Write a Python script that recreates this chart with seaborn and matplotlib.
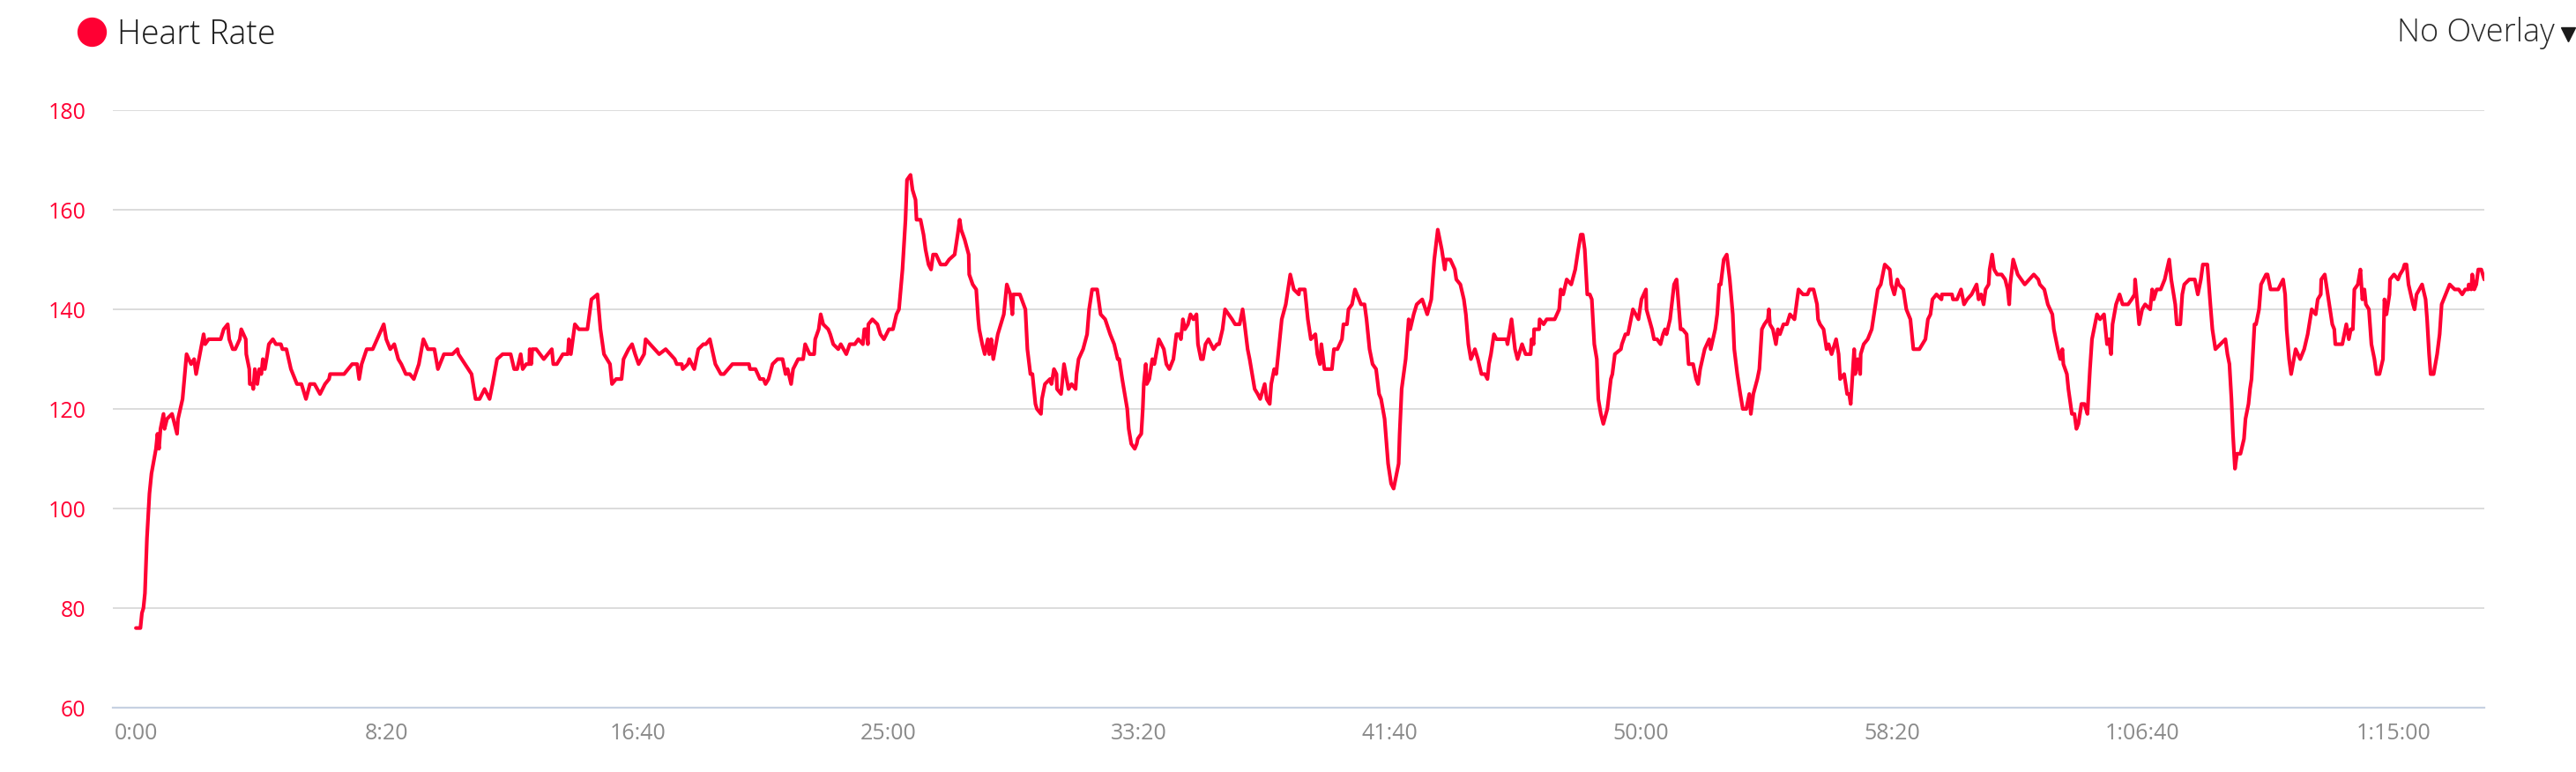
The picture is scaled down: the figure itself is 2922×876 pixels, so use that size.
import seaborn as sns
import matplotlib.pyplot as plt
import pandas as pd
from matplotlib.lines import Line2D

# heart rate samples (elapsed seconds, bpm)
seconds = [
    0, 9, 12, 15, 18, 22, 27, 31, 40, 43, 46, 49, 55, 57, 62, 72, 82, 84, 93, 101,
    110, 116, 120, 135, 138, 145, 169, 175, 183, 186, 193, 198, 207, 210, 219, 220, 226, 227, 232, 234,
    237, 242, 246, 250, 253, 257, 262, 265, 273, 279, 289, 292, 300, 309, 321, 330, 339, 347, 356, 367,
    377, 385, 387, 415, 431, 441, 445, 450, 460, 472, 494, 499,
    507, 515, 523, 529, 538, 546, 554, 564, 573, 582, 595, 602, 614, 631, 641, 643, 656, 669, 677, 685,
    695, 705, 711, 720, 731, 747, 754, 760, 767, 771, 778, 784, 785, 788, 790, 798, 813, 829, 832, 839,
    851, 861, 863, 867, 875, 883, 900, 908, 920, 926, 933, 945, 949, 957, 968, 972, 982, 989, 995, 1002,
    1013, 1016, 1043,
    1056, 1074, 1078, 1088, 1090, 1100, 1103, 1113, 1121, 1131, 1136, 1144, 1155, 1166, 1172, 1189, 1194, 1222, 1224, 1235,
    1244, 1251, 1255, 1261, 1269, 1279, 1289, 1295, 1299, 1306, 1310, 1320, 1330, 1334, 1343, 1352, 1354, 1361, 1365, 1370,
    1380, 1384, 1390, 1400, 1405, 1416, 1423, 1433, 1440, 1449, 1452, 1456, 1459, 1460, 1468, 1478, 1484, 1491, 1501, 1509,
    1516, 1521, 1528, 1534, 1537, 1544, 1548, 1554, 1556, 1564, 1570,
    1574, 1580, 1585, 1589, 1595, 1604, 1614, 1621, 1632, 1638, 1642, 1645, 1652, 1660, 1661, 1668, 1675, 1679, 1681, 1687,
    1692, 1698, 1701, 1705, 1709, 1718, 1724, 1730, 1736, 1743, 1747, 1749, 1762, 1773, 1777, 1783, 1787, 1793, 1796, 1804,
    1806, 1812, 1822, 1825, 1830, 1835, 1836, 1844, 1850, 1859, 1865, 1873, 1875, 1879, 1888, 1896, 1900, 1906, 1916, 1923,
    1932, 1942, 1950, 1957, 1960, 1966, 1976, 1979, 1984, 1991, 1995, 1997, 2004, 2007, 2009, 2013, 2015, 2020, 2026, 2030,
    2039, 2049, 2054, 2060, 2068, 2074, 2079, 2083, 2087, 2091, 2097, 2102,
    2108, 2114, 2117, 2123, 2127, 2132, 2138, 2148, 2155, 2159, 2166, 2171, 2178, 2185, 2191, 2200, 2206, 2210, 2216, 2220,
    2225, 2230, 2236, 2241, 2250, 2254, 2260, 2263, 2269, 2273, 2278, 2284, 2292, 2301, 2308, 2318, 2319, 2330, 2336, 2342,
    2351, 2355, 2360, 2363, 2369, 2384, 2388, 2395, 2404, 2407, 2414, 2417, 2424, 2430, 2442, 2449, 2453, 2459, 2465, 2472,
    2478, 2482, 2489, 2496, 2502, 2507, 2517, 2519, 2523, 2531, 2537, 2540, 2547, 2553, 2564, 2574, 2582, 2588, 2595, 2603,
    2609, 2611, 2620, 2629,
    2632, 2640, 2647, 2651, 2656, 2661, 2669, 2675, 2682, 2689, 2694, 2697, 2701, 2707, 2712, 2732, 2734, 2742, 2749, 2754,
    2763, 2770, 2780, 2782, 2786, 2787, 2797, 2798, 2806, 2812, 2828, 2837, 2840, 2845, 2852, 2861, 2869, 2875, 2880, 2884,
    2888, 2893, 2898, 2902, 2907, 2912, 2915, 2920, 2925, 2933, 2940, 2943, 2948, 2960, 2962, 2969, 2974, 2984, 2995, 3001,
    3010, 3011, 3022, 3026, 3032, 3039, 3044, 3048, 3051, 3058, 3066, 3071, 3079, 3083, 3091, 3095, 3104, 3110, 3114, 3118,
    3127, 3136, 3139, 3148, 3152, 3156,
    3159, 3165, 3171, 3177, 3183, 3186, 3192, 3198, 3203, 3210, 3216, 3219, 3224, 3232, 3236, 3241, 3246, 3253, 3255, 3257,
    3263, 3269, 3273, 3277, 3284, 3291, 3297, 3306, 3314, 3323, 3332, 3336, 3344, 3351, 3353, 3357, 3364, 3370, 3374, 3380,
    3389, 3394, 3397, 3405, 3411, 3415, 3418, 3425, 3427, 3432, 3437, 3438, 3444, 3452, 3460, 3466, 3472, 3478, 3486, 3496,
    3499, 3505, 3511, 3514, 3523, 3529, 3537, 3543, 3555, 3567, 3572, 3577, 3581, 3589, 3599, 3600, 3620, 3622, 3630, 3638,
    3644, 3650, 3659, 3669, 3673, 3678, 3683,
    3687, 3693, 3695, 3700, 3704, 3710, 3719, 3726, 3731, 3734, 3736, 3742, 3751, 3765, 3783, 3792, 3795, 3804, 3811, 3820,
    3823, 3831, 3836, 3840, 3842, 3849, 3852, 3859, 3864, 3868, 3872, 3878, 3884, 3890, 3895, 3899, 3903, 3909, 3915, 3923,
    3929, 3933, 3937, 3940, 3947, 3954, 3960, 3971, 3978, 3984, 3985, 3993, 3999, 4005, 4015, 4019, 4022, 4028, 4036, 4044,
    4053, 4057, 4065, 4068, 4075, 4079, 4083, 4093, 4104, 4110, 4116, 4120, 4129, 4135, 4139, 4145, 4155, 4165, 4169, 4173,
    4177, 4180, 4184, 4188, 4195, 4202, 4205, 4211,
    4214, 4217, 4223, 4226, 4232, 4236, 4246, 4249, 4255, 4270, 4280, 4284, 4287, 4292, 4296, 4305, 4314, 4322, 4329, 4337,
    4345, 4349, 4355, 4356, 4363, 4372, 4378, 4382, 4384, 4398, 4406, 4411, 4415, 4419, 4422, 4429, 4434, 4438, 4442, 4445,
    4451, 4456, 4462, 4466, 4472, 4479, 4482, 4486, 4492, 4493, 4501, 4509, 4513, 4519, 4522, 4526, 4530, 4539, 4542, 4546,
    4557, 4564, 4567, 4571, 4574, 4580, 4587, 4592, 4596, 4604, 4612, 4622, 4630, 4637, 4643, 4649, 4650, 4655, 4657, 4661,
    4665, 4669, 4675, 4681,
]
bpm = [
    76, 76, 79, 80, 83, 94, 103, 107, 112, 115, 112, 116, 119, 116, 118, 119, 115, 118, 122, 131,
    129, 130, 127, 135, 133, 134, 134, 136, 137, 134, 132, 132, 134, 136, 134, 131, 128, 125, 125, 124,
    128, 125, 128, 127, 130, 128, 131, 133, 134, 133, 133, 132, 132, 128, 125, 125, 122, 125, 125, 123,
    125, 126, 127, 127, 129, 129, 126, 129, 132, 132, 137, 134,
    132, 133, 130, 129, 127, 127, 126, 129, 134, 132, 132, 128, 131, 131, 132, 131, 129, 127, 122, 122,
    124, 122, 125, 130, 131, 131, 128, 128, 131, 128, 129, 129, 132, 129, 132, 132, 130, 132, 129, 129,
    131, 131, 134, 131, 137, 136, 136, 142, 143, 136, 131, 129, 125, 126, 126, 130, 132, 133, 131, 129,
    131, 134, 131,
    132, 130, 129, 129, 128, 129, 130, 128, 132, 133, 133, 134, 129, 127, 127, 129, 129, 129, 128, 128,
    126, 126, 125, 126, 129, 130, 130, 127, 128, 125, 128, 130, 130, 133, 131, 131, 134, 136, 139, 137,
    136, 135, 133, 132, 133, 131, 133, 133, 134, 133, 136, 136, 133, 137, 138, 137, 135, 134, 136, 136,
    139, 140, 148, 158, 166, 167, 164, 162, 158, 158, 155,
    152, 149, 148, 151, 151, 149, 149, 150, 151, 155, 158, 156, 154, 151, 147, 145, 144, 138, 136, 133,
    131, 134, 131, 134, 130, 135, 137, 139, 145, 143, 139, 143, 143, 140, 132, 127, 127, 121, 120, 119,
    122, 125, 126, 125, 128, 127, 124, 123, 129, 124, 125, 124, 127, 130, 132, 135, 140, 144, 144, 139,
    138, 135, 133, 130, 130, 126, 120, 116, 113, 112, 113, 114, 115, 120, 125, 129, 125, 126, 130, 129,
    134, 132, 129, 128, 130, 135, 135, 134, 138, 136, 137, 139,
    138, 139, 133, 130, 130, 133, 134, 132, 133, 133, 136, 140, 139, 138, 137, 137, 140, 137, 132, 130,
    127, 124, 123, 122, 125, 122, 121, 125, 128, 127, 132, 138, 141, 147, 144, 143, 144, 144, 138, 134,
    135, 131, 129, 133, 128, 128, 132, 132, 134, 137, 137, 140, 141, 144, 141, 141, 138, 132, 129, 128,
    123, 122, 118, 109, 105, 104, 109, 115, 124, 130, 138, 136, 139, 141, 142, 139, 142, 150, 156, 152,
    148, 150, 150, 148,
    146, 145, 142, 139, 133, 130, 132, 130, 127, 127, 126, 129, 131, 135, 134, 134, 133, 138, 132, 130,
    133, 131, 131, 134, 133, 136, 136, 138, 137, 138, 138, 140, 144, 143, 146, 145, 148, 152, 155, 155,
    152, 143, 143, 142, 133, 130, 122, 119, 117, 120, 126, 127, 131, 132, 133, 135, 135, 140, 138, 142,
    144, 140, 136, 134, 134, 133, 135, 136, 135, 138, 145, 146, 136, 136, 135, 129, 129, 126, 125, 128,
    132, 134, 132, 136, 139, 145,
    145, 150, 151, 146, 139, 132, 127, 123, 120, 120, 123, 119, 123, 126, 128, 136, 137, 138, 140, 137,
    136, 133, 136, 135, 137, 137, 139, 138, 144, 143, 143, 144, 144, 141, 138, 137, 136, 132, 133, 131,
    134, 131, 126, 127, 123, 123, 121, 132, 127, 130, 127, 131, 133, 134, 136, 140, 144, 145, 149, 148,
    145, 143, 146, 145, 144, 140, 138, 132, 132, 134, 138, 139, 142, 143, 142, 143, 143, 142, 142, 144,
    141, 142, 143, 145, 142, 143, 141,
    144, 145, 148, 151, 148, 147, 147, 146, 144, 141, 145, 150, 147, 145, 147, 146, 145, 144, 141, 139,
    136, 132, 130, 132, 129, 127, 124, 119, 119, 116, 117, 121, 121, 119, 128, 134, 136, 139, 138, 139,
    133, 134, 131, 137, 141, 143, 141, 141, 142, 143, 146, 137, 140, 141, 140, 144, 142, 144, 144, 146,
    150, 146, 141, 137, 137, 143, 145, 146, 146, 143, 146, 149, 149, 141, 136, 132, 133, 134, 131, 129,
    122, 115, 108, 111, 111, 114, 118, 121,
    124, 126, 137, 137, 140, 145, 147, 147, 144, 144, 146, 143, 136, 130, 127, 132, 130, 132, 135, 140,
    139, 142, 143, 146, 147, 141, 137, 136, 133, 133, 137, 134, 136, 136, 144, 145, 148, 142, 144, 141,
    140, 133, 130, 127, 127, 130, 142, 139, 143, 146, 147, 146, 147, 148, 149, 149, 145, 141, 140, 143,
    145, 142, 138, 131, 127, 127, 131, 135, 141, 143, 145, 144, 144, 143, 144, 144, 145, 144, 147, 144,
    145, 148, 148, 146,
]

tick_seconds = [0, 500, 1000, 1500, 2000, 2500, 3000, 3500, 4000, 4500]
tick_labels = ['0:00', '8:20', '16:40', '25:00', '33:20', '41:40', '50:00', '58:20', '1:06:40', '1:15:00']
y_ticks = [60, 80, 100, 120, 140, 160, 180]

red = '#FF0033'

sns.set_theme(style='white')
plt.rcParams['font.family'] = ['Open Sans', 'DejaVu Sans']

df = pd.DataFrame({'seconds': seconds, 'bpm': bpm})

fig = plt.figure(figsize=(29.22, 8.76), dpi=100)
ax = fig.add_axes([0.0438, 0.0833, 0.9206, 0.7740])

sns.lineplot(data=df, x='seconds', y='bpm', color=red, linewidth=3.0,
             estimator=None, sort=False, ax=ax)

ax.set_xlim(-46, seconds[-1])
ax.set_ylim(60, 180)
ax.set_yticks(y_ticks)
ax.set_yticklabels([str(v) for v in y_ticks], color=red, fontsize=18)
ax.set_xticks(tick_seconds)
ax.set_xticklabels(tick_labels, color='#8a8a8a', fontsize=18)
ax.tick_params(axis='y', length=0, pad=22)
ax.tick_params(axis='x', length=0, pad=12)
ax.set_xlabel('')
ax.set_ylabel('')

ax.grid(axis='y', color='#d9d9d9', linewidth=1.3)
ax.grid(axis='x', visible=False)
ax.set_axisbelow(True)
for side in ['top', 'left', 'right']:
    ax.spines[side].set_visible(False)
ax.spines['bottom'].set_color('#c6d1e2')
ax.spines['bottom'].set_linewidth(1.6)

# header: legend dot + title, overlay selector on the right
fig.add_artist(Line2D([104 / 2922], [1 - 36 / 876], marker='o', markersize=23,
                      color=red, transform=fig.transFigure))
fig.text(133 / 2922, 1 - 50 / 876, 'Heart Rate', fontsize=27, color='#1a1a1a',
         ha='left', va='baseline', fontweight='light')
fig.text(2898 / 2922, 1 - 47 / 876, 'No Overlay', fontsize=26, color='#2a2a2a',
         ha='right', va='baseline', fontweight='light')
fig.add_artist(Line2D([2913 / 2922], [1 - 39 / 876], marker='v', markersize=11,
                      color='#1a1a1a', transform=fig.transFigure))

plt.savefig('out.png', dpi=100)
